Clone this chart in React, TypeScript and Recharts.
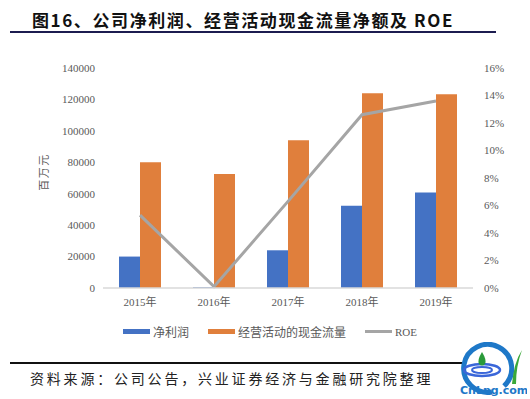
import React from "react";
import { ComposedChart, Bar, Line, XAxis, YAxis } from "recharts";

const years = ["2015年", "2016年", "2017年", "2018年", "2019年"];
const netProfit = [20000, 500, 24000, 52400, 60700];
const operatingCash = [80000, 72500, 94000, 124000, 123300];
const roe = [0.053, 0.001, 0.063, 0.126, 0.136];

const leftTicks = [0, 20000, 40000, 60000, 80000, 100000, 120000, 140000];
const rightTicks = [0, 0.02, 0.04, 0.06, 0.08, 0.1, 0.12, 0.14, 0.16];

const blue = "#4472C4";
const orange = "#E07F3C";
const gray = "#A5A5A5";
const tickFont = "'Liberation Serif', 'Noto Sans CJK SC', serif";
const cjk = "'Noto Sans CJK SC', sans-serif";

const legendItems = [
  { name: "净利润", color: blue, line: false },
  { name: "经营活动的现金流量", color: orange, line: false },
  { name: "ROE", color: gray, line: true },
];

export default function App() {
  const data = years.map((y, i) => ({
    year: y,
    netProfit: netProfit[i],
    operatingCash: operatingCash[i],
    roe: roe[i],
  }));

  const tick = { fontSize: 11, fill: "#595959", fontFamily: tickFont };

  return (
    <div
      style={{
        position: "absolute",
        left: 0,
        top: 0,
        width: 530,
        height: 399,
        background: "#fff",
        overflow: "hidden",
      }}
    >
      <div
        style={{
          position: "absolute",
          left: 32,
          top: 7,
          fontFamily: cjk,
          fontWeight: 700,
          fontSize: 17,
          letterSpacing: 1.6,
          color: "#111",
          whiteSpace: "nowrap",
        }}
      >
        图16、公司净利润、经营活动现金流量净额及 ROE
      </div>
      <div
        style={{
          position: "absolute",
          left: 10,
          top: 31,
          width: 486,
          height: 2,
          background: "#1c1c50",
        }}
      />

      <div style={{ position: "absolute", left: 0, top: 0 }}>
        <ComposedChart
          width={530}
          height={399}
          data={data}
          margin={{ top: 68, right: 17, bottom: 81, left: 43 }}
          barGap={0}
          barSize={21}
        >
          <XAxis
            dataKey="year"
            tickLine={false}
            axisLine={{ stroke: "#D9D9D9", strokeWidth: 1.5 }}
            tick={tick}
            tickSize={6}
            tickMargin={4}
            height={30}
            interval={0}
          />
          <YAxis
            yAxisId="left"
            width={60}
            domain={[0, 140000]}
            ticks={leftTicks}
            tickLine={false}
            axisLine={false}
            tick={tick}
            tickSize={6}
            tickMargin={2}
          />
          <YAxis
            yAxisId="right"
            orientation="right"
            width={40}
            domain={[0, 0.16]}
            ticks={rightTicks}
            tickLine={false}
            axisLine={false}
            tick={{ ...tick, textAnchor: "start" }}
            tickSize={6}
            tickMargin={5}
            tickFormatter={(v: number) => `${Math.round(v * 100)}%`}
          />
          <Bar yAxisId="left" dataKey="netProfit" fill={blue} isAnimationActive={false} />
          <Bar yAxisId="left" dataKey="operatingCash" fill={orange} isAnimationActive={false} />
          <Line
            yAxisId="right"
            dataKey="roe"
            stroke={gray}
            strokeWidth={3}
            dot={false}
            type="linear"
            isAnimationActive={false}
          />
        </ComposedChart>
      </div>

      <svg style={{ position: "absolute", left: 0, top: 0 }} width={80} height={300}>
        <text
          x={43}
          y={172}
          transform="rotate(-90 43 172)"
          textAnchor="middle"
          dominantBaseline="central"
          fontFamily={cjk}
          fontSize={11}
          letterSpacing={1.5}
          fill="#595959"
        >
          百万元
        </text>
      </svg>

      <div
        style={{
          position: "absolute",
          left: 123,
          top: 323,
          display: "flex",
          alignItems: "center",
          fontFamily: cjk,
          fontSize: 12,
          color: "#595959",
          whiteSpace: "nowrap",
        }}
      >
        {legendItems.map((it) => (
          <div key={it.name} style={{ display: "flex", alignItems: "center", marginRight: 19 }}>
            <div
              style={{
                width: 27,
                height: it.line ? 3 : 5,
                background: it.color,
                marginRight: 3,
              }}
            />
            <span style={{ fontFamily: it.line ? tickFont : cjk, fontSize: it.line ? 11 : 12 }}>{it.name}</span>
          </div>
        ))}
      </div>

      <div
        style={{
          position: "absolute",
          left: 10,
          top: 362,
          width: 452,
          height: 2,
          background: "#111",
        }}
      />
      <div
        style={{
          position: "absolute",
          left: 30,
          top: 368,
          fontFamily: cjk,
          fontSize: 14,
          letterSpacing: 2.8,
          color: "#222",
          whiteSpace: "nowrap",
        }}
      >
        资料来源：公司公告，兴业证券经济与金融研究院整理
      </div>

      <svg style={{ position: "absolute", left: 452, top: 342 }} width={75} height={56}>
        <path d="M 40 50 A 24 24 0 1 1 52 44" fill="none" stroke="#1e78c8" strokeWidth={5} />
        <ellipse cx={30} cy={28} rx={18} ry={6} fill="none" stroke="#3a66d9" strokeWidth={2.5} />
        <ellipse cx={30} cy={28} rx={10} ry={3} fill="none" stroke="#3a66d9" strokeWidth={2} />
        <path d="M 30 10 Q 25 18 27 22 Q 30 25 33 22 Q 35 18 30 10 Z" fill="#2a9a3a" />
        <path d="M 60 42 Q 62 20 70 8 Q 64 24 64 42 Z" fill="#3aa83a" />
        <text x={8} y={52} fontSize={11} fontWeight={700} fill="#1e78c8" fontFamily="'DejaVu Sans', sans-serif">
          CnLng.com
        </text>
      </svg>
    </div>
  );
}
